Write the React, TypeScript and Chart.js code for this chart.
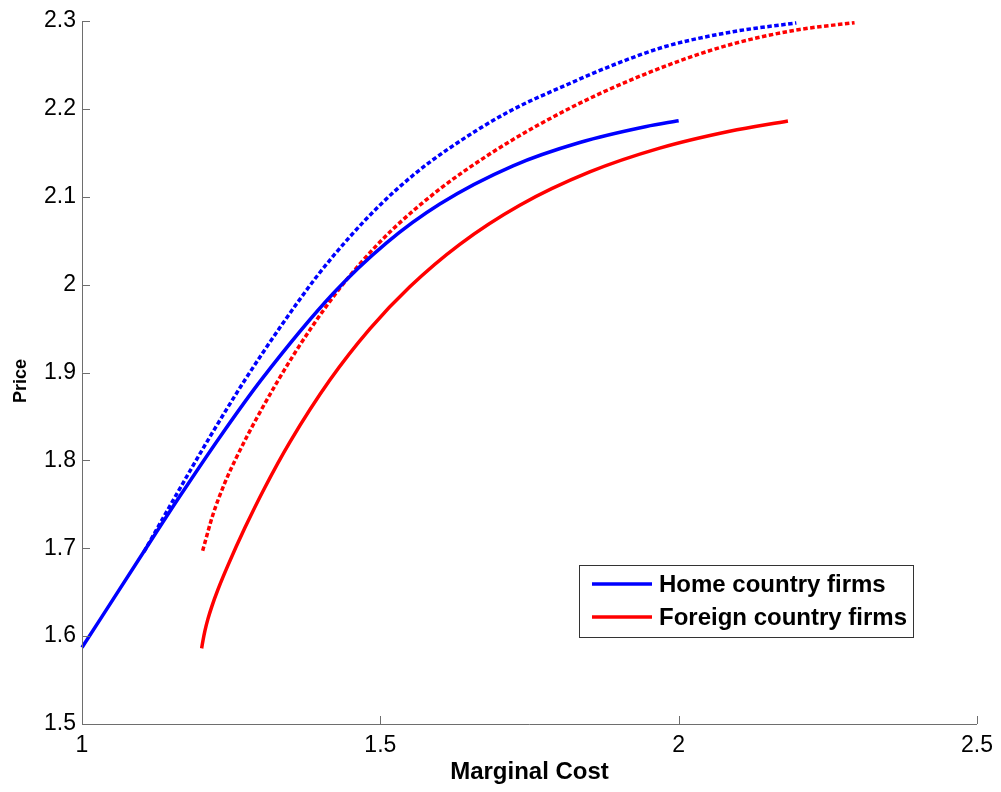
import React, { useEffect, useRef } from 'react';
import { Chart, registerables } from 'chart.js';

Chart.register(...registerables);

// ---- Data ----
const homeSolidX = [1.0, 1.1027, 1.1642, 1.2312, 1.301, 1.4209, 1.5104, 1.5997, 1.7224, 1.8342, 1.9459, 2.0];
const homeSolidY = [1.587, 1.6951, 1.7594, 1.8267, 1.8922, 1.9899, 2.0476, 2.0918, 2.1352, 2.1617, 2.1799, 2.1865];

const homeDotX = [1.1039, 1.1591, 1.2144, 1.273, 1.3317, 1.3931, 1.4489, 1.4992, 1.5544, 1.6109, 1.7136, 1.8174, 1.8978, 1.9794, 2.091, 2.1972];
const homeDotY = [1.696, 1.7621, 1.8268, 1.8914, 1.9511, 2.0089, 2.0544, 2.0904, 2.1242, 2.153, 2.1962, 2.2289, 2.2519, 2.2713, 2.2878, 2.2978];

const foreignSolidX = [1.2005, 1.2027, 1.206, 1.2111, 1.2178, 1.2278, 1.2446, 1.273, 1.3065, 1.3484, 1.4154, 1.4824, 1.5494, 1.6332, 1.7337, 1.8509, 1.9682, 2.0854, 2.1831];
const foreignSolidY = [1.5861, 1.5948, 1.606, 1.6196, 1.6342, 1.6529, 1.6805, 1.7232, 1.7692, 1.8208, 1.8914, 1.9496, 1.9975, 2.0458, 2.0903, 2.1282, 2.1553, 2.1745, 2.1863];

const foreignDotX = [1.2022, 1.2194, 1.2395, 1.258, 1.2982, 1.3551, 1.4154, 1.4657, 1.5209, 1.5997, 1.6834, 1.7638, 1.8677, 2.005, 2.1022, 2.2027, 2.2948];
const foreignDotY = [1.6972, 1.7381, 1.7746, 1.8022, 1.8547, 1.9205, 1.9809, 2.0236, 2.063, 2.1088, 2.1486, 2.1813, 2.2173, 2.2555, 2.276, 2.2903, 2.2981];

const xTicks = [1, 1.5, 2, 2.5];
const xTickLabels = ['1', '1.5', '2', '2.5'];
const yTicks = [1.5, 1.6, 1.7, 1.8, 1.9, 2.0, 2.1, 2.2, 2.3];
const yTickLabels = ['1.5', '1.6', '1.7', '1.8', '1.9', '2', '2.1', '2.2', '2.3'];

const xTitle = 'Marginal Cost';
const yTitle = 'Price';
const legendLabels = ['Home country firms', 'Foreign country firms'];

const BLUE = '#0000FF';
const RED = '#FF0000';
const FONT = '"Liberation Sans", Arial, Helvetica, sans-serif';

const zip = (xs: number[], ys: number[]) => xs.map((x, i) => ({ x, y: ys[i] }));

const axesPlugin = {
  id: 'matlabAxes',
  afterDatasetsDraw(chart: any) {
    const ctx = chart.ctx;
    const { left, right, top, bottom } = chart.chartArea;
    const xs = chart.scales.x;
    const ys = chart.scales.y;
    ctx.save();
    ctx.strokeStyle = '#6e6e6e';
    ctx.lineWidth = 1;
    ctx.setLineDash([]);
    ctx.beginPath();
    ctx.moveTo(left + 0.5, top);
    ctx.lineTo(left + 0.5, bottom + 0.5);
    ctx.lineTo(right, bottom + 0.5);
    ctx.stroke();
    ctx.beginPath();
    const tl = 8;
    yTicks.forEach((v) => {
      const py = Math.round(ys.getPixelForValue(v)) + 0.5;
      ctx.moveTo(left, py);
      ctx.lineTo(left + tl, py);
    });
    xTicks.forEach((v) => {
      const px = Math.round(xs.getPixelForValue(v)) + 0.5;
      ctx.moveTo(px, bottom);
      ctx.lineTo(px, bottom - tl);
    });
    ctx.stroke();
    ctx.restore();
  },
  afterDraw(chart: any, _a: any, opts: any) {
    const ctx = chart.ctx;
    ctx.save();
    ctx.translate(opts.yTitleX, opts.yTitleY);
    ctx.rotate(-Math.PI / 2);
    ctx.fillStyle = '#000';
    ctx.font = `bold ${opts.yTitleSize}px ${FONT}`;
    ctx.textAlign = 'center';
    ctx.textBaseline = 'middle';
    ctx.fillText(yTitle, 0, 0);
    ctx.restore();
  },
};

const legendPlugin = {
  id: 'boxLegend',
  afterDraw(chart: any, _args: any, opts: any) {
    const ctx = chart.ctx;
    const { right, bottom } = chart.chartArea;
    const bx = right - opts.offsetRight - opts.width;
    const by = bottom - opts.offsetBottom - opts.height;
    ctx.save();
    ctx.fillStyle = '#ffffff';
    ctx.fillRect(bx, by, opts.width, opts.height);
    ctx.strokeStyle = '#333333';
    ctx.lineWidth = 1;
    ctx.strokeRect(bx + 0.5, by + 0.5, opts.width, opts.height);
    const colors = [BLUE, RED];
    legendLabels.forEach((label, i) => {
      const cy = by + opts.firstRow + i * opts.rowGap;
      ctx.strokeStyle = colors[i];
      ctx.lineWidth = 3.5;
      ctx.setLineDash([]);
      ctx.beginPath();
      ctx.moveTo(bx + opts.lineStart, cy);
      ctx.lineTo(bx + opts.lineStart + opts.lineLen, cy);
      ctx.stroke();
      ctx.fillStyle = '#000000';
      ctx.font = `bold ${opts.fontSize}px ${FONT}`;
      ctx.textBaseline = 'middle';
      ctx.textAlign = 'left';
      ctx.fillText(label, bx + opts.textStart, cy + 1);
    });
    ctx.restore();
  },
};

export default function App() {
  const ref = useRef<HTMLCanvasElement | null>(null);

  useEffect(() => {
    if (!ref.current) return;
    const common = {
      pointRadius: 0,
      pointHoverRadius: 0,
      showLine: true,
      fill: false,
      cubicInterpolationMode: 'monotone' as const,
      borderWidth: 3.5,
      borderCapStyle: 'butt' as const,
      clip: false as any,
    };
    const chart = new Chart(ref.current, {
      type: 'scatter',
      data: {
        datasets: [
          { ...common, label: legendLabels[0], data: zip(homeSolidX, homeSolidY), borderColor: BLUE, backgroundColor: BLUE },
          { ...common, label: legendLabels[1], data: zip(foreignSolidX, foreignSolidY), borderColor: RED, backgroundColor: RED },
          { ...common, label: 'home-dotted', data: zip(homeDotX, homeDotY), borderColor: BLUE, backgroundColor: BLUE, borderDash: [4.5, 2.5] },
          { ...common, label: 'foreign-dotted', data: zip(foreignDotX, foreignDotY), borderColor: RED, backgroundColor: RED, borderDash: [4.5, 2.5] },
        ],
      },
      options: {
        animation: false,
        responsive: false,
        layout: { padding: { left: 0, right: 24, top: 21, bottom: 0 } },
        plugins: {
          legend: { display: false },
          tooltip: { enabled: false },
          matlabAxes: { yTitleX: 21, yTitleY: 381, yTitleSize: 18 },
          boxLegend: {
            width: 334,
            height: 72,
            offsetRight: 64,
            offsetBottom: 87,
            firstRow: 19,
            rowGap: 33,
            lineStart: 13,
            lineLen: 60,
            textStart: 80,
            fontSize: 24,
          },
        } as any,
        scales: {
          x: {
            type: 'linear',
            min: 1,
            max: 2.5,
            afterBuildTicks: (s: any) => {
              s.ticks = xTicks.map((v) => ({ value: v }));
            },
            afterFit: (s: any) => {
              s.height = 68;
            },
            ticks: {
              autoSkip: false,
              maxRotation: 0,
              padding: 8,
              color: '#000',
              font: { family: FONT, size: 23 },
              callback: (v: any) => xTickLabels[xTicks.indexOf(Number(v))] ?? '',
            },
            grid: { display: false, drawTicks: false },
            border: { display: false },
            title: {
              display: true,
              text: xTitle,
              color: '#000',
              font: { family: FONT, size: 24, weight: 'bold' },
              padding: { top: 0, bottom: 5 },
            },
          },
          y: {
            type: 'linear',
            min: 1.5,
            max: 2.3,
            afterBuildTicks: (s: any) => {
              s.ticks = yTicks.map((v) => ({ value: v }));
            },
            afterFit: (s: any) => {
              s.width = 82;
            },
            ticks: {
              autoSkip: false,
              padding: 6,
              color: '#000',
              font: { family: FONT, size: 23 },
              callback: (v: any) => {
                const i = yTicks.findIndex((t) => Math.abs(t - Number(v)) < 1e-9);
                return i >= 0 ? yTickLabels[i] : '';
              },
            },
            grid: { display: false, drawTicks: false },
            border: { display: false },
            title: { display: false },
          },
        },
      } as any,
      plugins: [axesPlugin, legendPlugin],
    });
    return () => chart.destroy();
  }, []);

  return (
    <div style={{ position: 'absolute', left: 0, top: 0, width: 1001, height: 792, background: '#fff' }}>
      <canvas ref={ref} width={1001} height={792} style={{ display: 'block' }} />
    </div>
  );
}
